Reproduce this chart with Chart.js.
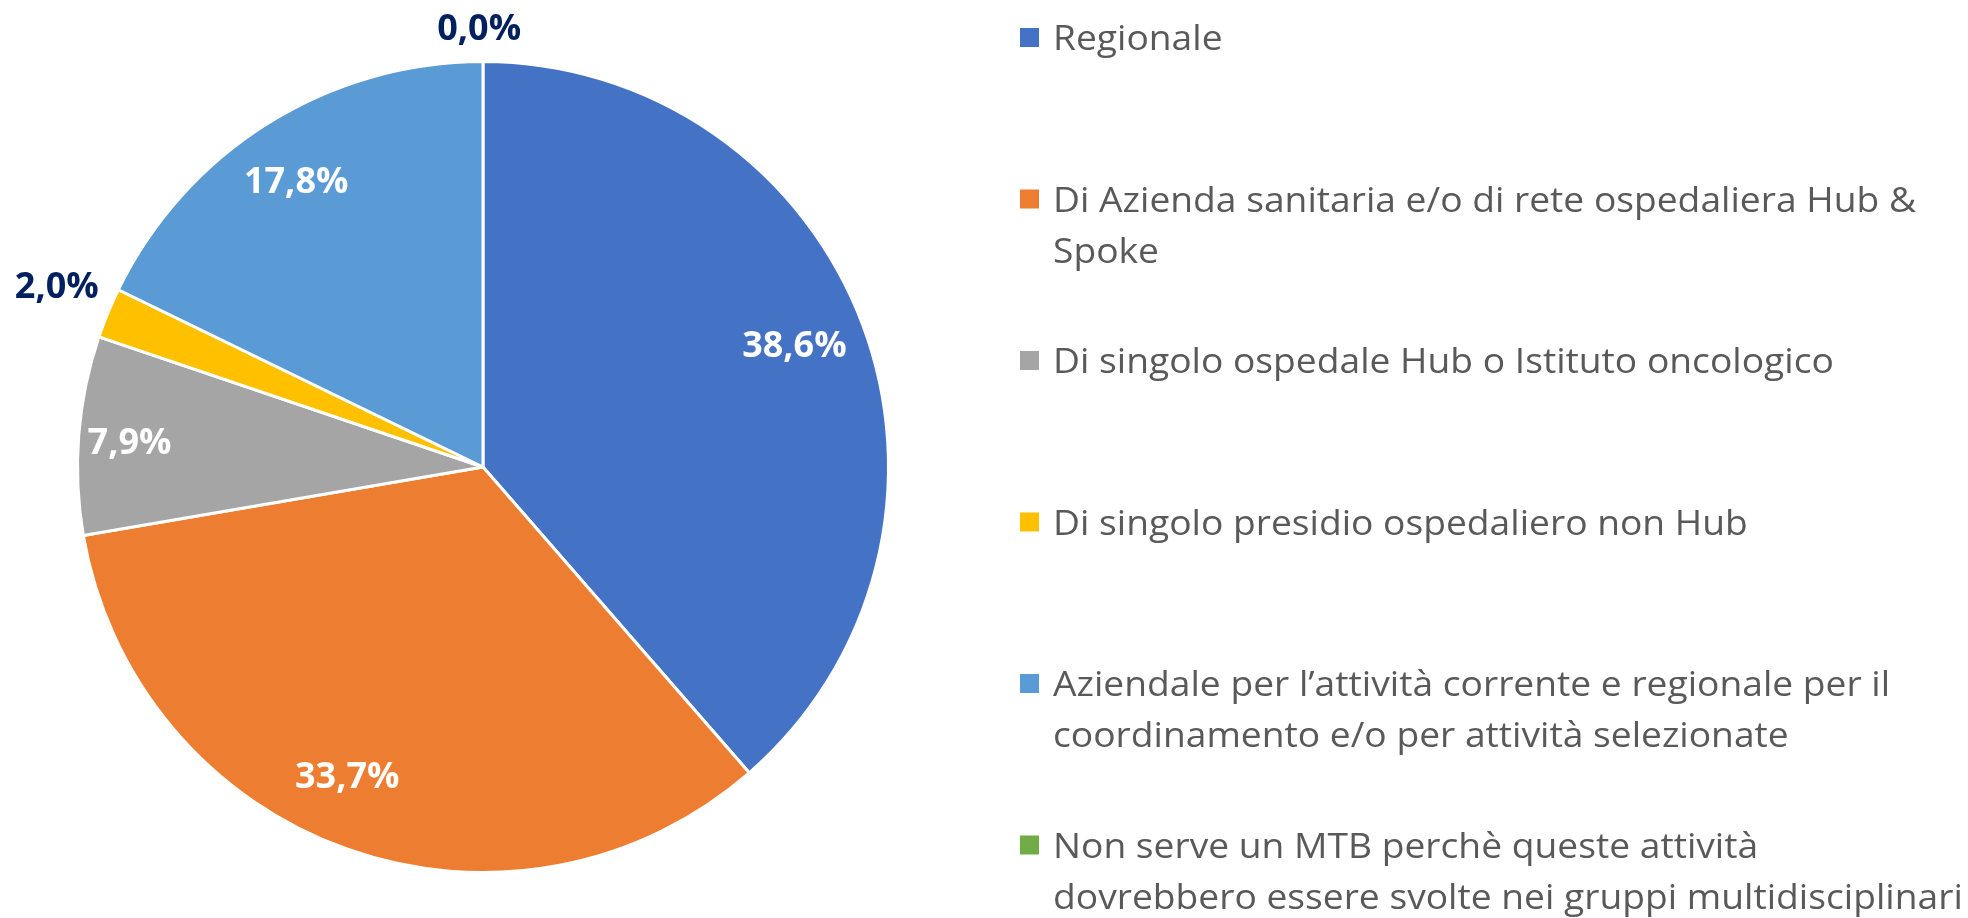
<!DOCTYPE html>
<html><head><meta charset="utf-8">
<style>html,body{margin:0;padding:0;background:#fff;overflow:hidden}canvas{display:block}</style>
<script src="https://cdn.jsdelivr.net/npm/chart.js@4"></script>
</head><body>
<canvas id="c" width="1968" height="918" style="width:1968px;height:918px"></canvas>
<script>
// ---- data ----
const categories = [
  'Regionale',
  ['Di Azienda sanitaria e/o di rete ospedaliera Hub &', 'Spoke'],
  'Di singolo ospedale Hub o Istituto oncologico',
  'Di singolo presidio ospedaliero non Hub',
  ['Aziendale per l\u2019attivit\u00e0 corrente e regionale per il', 'coordinamento e/o per attivit\u00e0 selezionate'],
  ['Non serve un MTB perch\u00e8 queste attivit\u00e0', 'dovrebbero essere svolte nei gruppi multidisciplinari']
];
const values = [38.6, 33.7, 7.9, 2.0, 17.8, 0.0];

// ---- styles / label placement ----
const colors = ['#4472C4', '#ED7D31', '#A5A5A5', '#FFC000', '#5B9BD5', '#70AD47'];
const labelRadius = [0.826, 0.829, 0.874, 1.143, 0.845, 1.084];
const labelAngleOffset = [-1.1, 4.2, -0.3, 0.8, -1.0, -0.5];
const labelOutside = [false, false, false, true, false, true];

const fmt = v => v.toFixed(1).replace('.', ',') + '%';

const labelPlugin = {
  id: 'valueLabels',
  afterDatasetsDraw(chart) {
    const ctx = chart.ctx;
    const meta = chart.getDatasetMeta(0);
    ctx.save();
    ctx.font = 'bold 36px "Open Sans"';
    ctx.textAlign = 'center';
    ctx.textBaseline = 'alphabetic';
    meta.data.forEach((arc, i) => {
      const p = arc.getProps(['x', 'y', 'startAngle', 'endAngle', 'outerRadius'], true);
      const mid = (p.startAngle + p.endAngle) / 2 + labelAngleOffset[i] * Math.PI / 180;
      const r = p.outerRadius * labelRadius[i];
      const cx = p.x + Math.cos(mid) * r;
      const cy = p.y + Math.sin(mid) * r;
      ctx.fillStyle = labelOutside[i] ? '#002060' : '#FFFFFF';
      ctx.fillText(fmt(values[i]), cx, cy + 13);
    });
    ctx.restore();
  }
};

const legendPlugin = {
  id: 'sideLegend',
  afterDraw(chart) {
    const ctx = chart.ctx;
    ctx.save();
    ctx.font = '35px "Open Sans"';
    ctx.textAlign = 'left';
    ctx.textBaseline = 'alphabetic';
    const refW = ctx.measureText(categories[1][0]).width;
    const sx = 863 / refW;
    chart.data.labels.forEach((lab, i) => {
      const y0 = 50 + i * 161.5;
      ctx.fillStyle = colors[i];
      ctx.fillRect(1020, y0 - 22, 19, 19);
      const lines = Array.isArray(lab) ? lab : [lab];
      ctx.fillStyle = '#595959';
      lines.forEach((ln, j) => {
        ctx.save();
        ctx.translate(1053, y0 + j * 51);
        ctx.scale(sx, 1);
        ctx.fillText(ln, 0, 0);
        ctx.restore();
      });
    });
    ctx.restore();
  }
};

new Chart(document.getElementById('c').getContext('2d'), {
  type: 'pie',
  data: {
    labels: categories,
    datasets: [{ data: values, backgroundColor: colors, borderColor: '#FFFFFF', borderWidth: 3 }]
  },
  options: {
    responsive: false,
    animation: false,
    layout: { padding: { left: 76, right: 1078, top: 60, bottom: 44 } },
    plugins: { legend: { display: false }, tooltip: { enabled: false } }
  },
  plugins: [labelPlugin, legendPlugin]
});
</script>
</body></html>
